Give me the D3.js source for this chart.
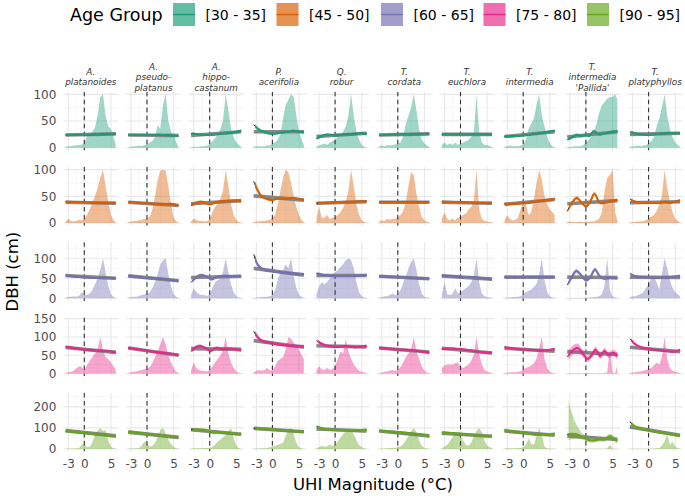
<!DOCTYPE html>
<html><head><meta charset="utf-8">
<script src="https://cdn.jsdelivr.net/npm/d3@7"></script>
<style>body{margin:0;background:#fff}svg{display:block}text{font-family:"DejaVu Sans",sans-serif}</style>
</head><body>
<svg id="chart" width="685" height="496"></svg>
<script>
// ---------- DATA ----------
const species = [["A.","platanoides"],["A.","pseudo-","platanus"],["A.","hippo-","castanum"],["P.","acerifolia"],["Q.","robur"],["T.","cordata"],["T.","euchlora"],["T.","intermedia"],["T.","intermedia","'Pallida'"],["T.","platyphyllos"]];
const ageGroups = ["[30 - 35]","[45 - 50]","[60 - 65]","[75 - 80]","[90 - 95]"];
const colors = ["#1B9E77","#D95F02","#7570B3","#E7298A","#66A61E"];
const xTicks = [-3,0,5];
const xMinor = [-1.5,2.5];
const yTicks = [[0,50,100],[0,50,100],[0,50,100],[0,50,100,150],[0,100,200]];
const yMinor = [[25,75],[25,75],[25,75,125],[25,75,125],[50,150,250]];
const yDomains = [[-5,105],[-5,105],[-6.7,140],[-7.3,152.7],[-12.7,266.7]];
const leadCols = [2,3,4,8,9];

// density (scaled) at these UHI values
const densX = [-3.5,-3,-2.5,-2,-1.5,-1,-0.5,0,0.5,1,1.5,2,2.5,3,3.5,4,4.5,5,5.5,5.9];
const dens1 = [
[2,3,3,4,4,5,6,8,22,25,30,38,60,95,100,60,40,35,20,5],
[1,2,3,3,4,3,5,6,10,12,20,42,35,80,100,50,30,25,10,2],
[1,2,2,2,3,3,4,6,12,18,25,35,50,100,70,35,20,10,5,2],
[2,3,3,3,3,4,4,8,10,15,25,55,80,90,100,95,60,30,15,5],
[2,4,6,8,5,10,12,15,20,25,30,40,60,100,60,30,15,5,2,1],
[3,4,3,5,4,5,6,8,10,20,45,60,75,100,70,35,15,8,4,2],
[5,10,5,8,5,10,5,8,10,12,15,20,25,100,30,10,5,5,3,2],
[2,3,4,3,3,3,4,5,15,35,45,55,80,100,60,40,20,8,3,1],
[1,2,2,3,3,3,5,10,15,20,30,45,65,80,85,92,95,95,100,90],
[2,3,3,4,3,4,5,8,12,20,40,55,75,100,60,35,20,10,5,2]];
const dens2 = [
[3,8,4,3,4,6,5,8,15,25,38,50,65,85,100,70,40,15,5,1],
[2,3,4,4,5,6,8,8,12,25,50,80,98,100,98,70,35,10,3,1],
[3,8,6,4,4,3,4,6,20,30,35,45,60,100,70,35,15,5,2,1],
[2,3,3,4,4,5,6,10,15,35,60,85,100,95,75,50,30,15,5,2],
[10,30,10,10,15,8,10,12,15,20,28,40,60,100,70,35,15,5,2,1],
[3,5,4,8,6,8,8,10,15,22,40,70,95,90,55,30,12,5,2,1],
[8,20,8,5,8,5,10,12,15,18,25,30,40,100,25,8,4,3,2,1],
[5,15,8,5,5,10,25,40,35,15,20,45,75,100,80,50,35,25,20,15],
[2,3,2,2,2,3,2,3,2,3,3,5,8,20,60,85,90,100,20,5],
[1,2,2,3,3,4,5,8,12,15,22,35,50,100,65,40,20,8,4,1]];
const dens3 = [
[2,3,4,5,4,6,15,10,8,12,20,35,50,70,100,65,30,10,3,1],
[2,3,4,4,6,8,10,12,15,25,40,60,85,95,100,60,30,10,4,1],
[8,25,15,10,8,8,6,10,25,40,45,50,65,100,65,35,15,5,2,1],
[1,2,2,3,3,4,5,8,20,45,65,70,85,75,100,55,25,8,3,1],
[10,30,40,35,40,50,60,65,70,78,85,95,100,95,75,40,15,5,2,1],
[2,3,5,5,8,12,8,10,20,38,55,75,90,100,70,35,12,4,2,1],
[10,40,10,8,10,25,12,15,20,25,30,40,55,100,40,12,5,3,2,1],
[1,2,2,3,3,4,5,10,15,18,22,28,35,60,100,45,15,5,2,1],
[1,1,1,1,1,1,1,2,2,2,3,3,5,10,30,100,20,5,2,1],
[3,5,5,8,10,15,25,35,50,55,40,22,60,100,75,45,25,15,10,5]];
const dens4 = [
[2,4,5,8,14,20,18,10,22,35,45,55,65,100,65,45,40,30,20,10],
[2,4,5,6,8,10,12,13,18,28,45,60,80,100,80,50,30,15,5,2],
[10,30,15,10,8,8,6,10,20,30,40,50,65,100,55,30,15,5,2,1],
[3,8,10,8,10,15,10,8,20,35,40,45,65,100,95,85,75,65,50,40],
[10,20,12,10,15,10,12,20,40,60,55,95,60,40,25,15,8,5,3,2],
[2,3,5,6,8,10,8,10,18,30,45,55,65,100,60,40,20,8,3,1],
[15,22,25,25,25,28,30,18,15,20,25,35,50,100,55,25,10,5,3,1],
[2,3,3,4,4,5,6,12,15,18,22,28,40,70,100,40,15,5,2,1],
[1,1,1,1,1,1,1,1,1,1,1,1,1,1,2,3,70,3,2,22],
[2,3,4,5,6,8,10,12,15,22,30,25,45,100,40,15,8,5,3,1]];
const dens5 = [
[1,2,2,2,3,5,20,25,8,10,30,70,85,100,85,90,40,10,3,1],
[1,2,2,3,5,15,35,30,12,15,30,55,90,100,75,45,25,10,3,1],
[2,3,3,3,3,4,4,5,10,20,35,45,55,65,85,100,50,15,3,1],
[1,2,2,3,3,5,8,10,15,20,25,30,60,95,100,70,30,8,2,1],
[3,8,15,10,12,20,15,20,35,55,70,85,100,90,70,40,20,8,3,1],
[1,2,2,3,4,5,6,8,12,22,40,60,85,100,80,40,15,5,2,1],
[5,10,20,35,55,70,75,65,40,20,15,30,60,85,100,80,40,15,8,4],
[2,3,3,3,3,4,5,8,20,50,25,20,60,100,60,10,3,2,1,1],
[1,1,1,1,1,1,1,1,1,1,1,1,1,1,1,2,20,2,1,1],
[1,1,1,1,1,1,1,1,1,2,3,5,15,35,70,20,35,10,3,1]];

// linear fit: DBH at UHI = -3.5 and 5.9
const linX = [-3.5,5.9];
const lin1 = [[24,26],[24,23],[23,30],[30,30],[21,27],[24,26],[25,25],[21,30],[20,30],[25,27]];
const lin2 = [[39,37],[39,33],[36,42],[51,43],[37,40],[39,39],[39,37],[35,44],[36,42],[38,40]];
const lin3 = [[57,50],[56,44],[52,55],[75,58],[57,57],[55,49],[56,48],[53,53],[53,52],[53,52]];
const lin4 = [[71,58],[70,50],[68,66],[90,72],[76,73],[70,59],[69,56],[69,61],[60,52],[72,60]];
const lin5 = [[87,62],[80,55],[92,70],[98,82],[95,85],[85,62],[75,60],[85,65],[62,45],[105,65]];

// smooth fit knots: [UHI, DBH, se below, (se above)]
const smooth1 = [
[[-3.5,24,2],[0,24,1.5],[3,25,1.5],[5.9,26,2]],
[[-3.5,24,2],[0,24,1.5],[3,24,1.5],[5.9,22,2]],
[[-3.5,27,3],[-2,25,2],[0,24,1.5],[2,26,1.5],[4,28,2],[5.9,32,3]],
[[-3.5,43,5],[-2.5,34,3],[-1.5,29,2],[0,26,2],[1.5,28,2],[3,30,2],[4,32,2],[5,30,2],[5.9,29,3]],
[[-3.5,17,4],[-2.5,22,3],[-1.5,25,2],[0,23,2],[1.5,25,2],[3,25,2],[4.5,27,2],[5.9,26,3]],
[[-3.5,24,2],[0,25,1.5],[3,25,1.5],[5.9,26,2]],
[[-3.5,25,2],[0,25,1.5],[3,25,1.5],[5.9,25,2]],
[[-3.5,21,2],[0,23,1.5],[3,27,1.5],[5.9,32,2.5]],
[[-3.5,15,4],[-2.5,20,3],[-1.8,24,3],[-0.8,22,3],[0,24,2.5],[0.6,22,2.5],[1.5,31,3],[2.5,25,2.5],[3.5,27,2],[4.5,29,2],[5.9,31,3]],
[[-3.5,30,3],[-2,26,2],[0,24,1.5],[2,26,1.5],[3.5,27,1.5],[5.9,27,2]]];
const smooth2 = [
[[-3.5,40,2],[-1,39,1.5],[2,38,1.5],[5.9,38,2]],
[[-3.5,39,2],[0,37,1.5],[3,35,1.5],[4.5,36,2],[5.9,33,2.5]],
[[-3.5,33,3],[-2.2,39,3],[-1.5,40,2.5],[0,35,2],[1.2,39,2],[3,41,2],[4.5,42,2],[5.9,41,3]],
[[-3.5,78,7],[-2.8,62,5],[-2,50,3],[-1,45,3],[0,43,2],[1,46,2],[2.5,45,2],[4,47,2],[5,45,2],[5.9,43,3]],
[[-3.5,37,2],[0,39,1.5],[3,40,1.5],[5.9,41,2.5]],
[[-3.5,39,2],[0,39,1.5],[3,39,1.5],[5.9,39,2]],
[[-3.5,40,2],[0,39,1.5],[3,38,1.5],[5.9,38,2]],
[[-3.5,36,2],[0,37,1.5],[3,41,1.5],[5.9,45,2.5]],
[[-3.5,22,5],[-2.6,38,4],[-1.7,47,4],[-0.8,38,3],[0,31,3],[0.8,40,3],[1.6,55,4],[2.6,38,3],[3.5,38,2.5],[4.5,41,2.5],[5.9,43,3]],
[[-3.5,45,3],[-2.5,40,2],[0,38,1.5],[2,38,1.5],[3.2,40,1.5],[4,38,1.5],[5.9,43,2.5]]];
const smooth3 = [
[[-3.5,57,3],[-1,53,2],[2,51,2],[5.9,50,3]],
[[-3.5,56,3],[0,51,2],[3,48,2],[5.9,44,3]],
[[-3.5,40,5],[-2.5,53,4],[-1.7,58,4],[-0.5,54,3],[0.3,47,3],[1.2,52,3],[2.5,56,3],[4,55,3],[5.9,55,4]],
[[-3.5,110,8],[-2.8,85,6],[-2,74,4],[0,68,3],[2,64,3],[4,62,3],[5.9,60,4]],
[[-3.5,63,4],[-2,58,3],[0,56,2.5],[3,56,2.5],[5.9,58,4]],
[[-3.5,55,3],[0,53,2],[3,51,2],[5.9,49,3]],
[[-3.5,57,3],[0,54,2],[3,52,2],[5.9,47,3]],
[[-3.5,53,3],[0,53,2],[3,53,2],[5.9,53,3]],
[[-3.5,33,6],[-2.7,52,6],[-1.8,68,6],[-0.9,58,5],[0,45,5],[0.8,52,5],[1.7,72,5],[2.6,55,4],[3.5,49,4],[4.5,51,4],[5.9,50,5]],
[[-3.5,62,4],[-2.5,55,3],[0,52,2.5],[3,52,2.5],[5.9,56,4]]];
const smooth4 = [
[[-3.5,73,4],[-2,70,3],[0,66,3],[2,63,3],[4,62,3],[5.9,58,4]],
[[-3.5,70,4],[-1,65,3],[2,58,3],[4,55,3],[5.9,51,4]],
[[-3.5,60,6],[-2.6,72,5],[-1.8,75,5],[-0.8,70,4],[0.2,62,4],[1.1,70,4],[2.2,68,4],[4,68,4],[5.9,64,5]],
[[-3.5,115,9],[-2.8,100,6],[-2,90,5],[0,83,4],[2,78,4],[4,76,4],[5.9,74,5]],
[[-3.5,90,6],[-2,78,4],[0,73,3],[2,75,3],[4,72,3],[5.9,75,5]],
[[-3.5,70,4],[0,66,3],[3,63,3],[5.9,57,4]],
[[-3.5,67,4],[-1,68,3],[2,63,3],[4,58,3],[5.9,57,4]],
[[-3.5,72,4],[-1.5,68,3],[1,65,3],[4,63,3],[5.9,67,4]],
[[-3.5,45,15],[-2.6,62,12],[-1.6,70,12],[-0.6,55,10],[0.3,40,8],[1.1,50,8],[1.8,65,8],[2.7,48,8],[3.5,62,8],[4.3,50,8],[5.1,57,8],[5.9,48,10]],
[[-3.5,95,6],[-2.5,80,4],[-1,70,3],[1,65,3],[3,62,3],[5,60,3],[5.9,65,4]]];
const smooth5 = [
[[-3.5,85,8],[0,76,6],[3,68,6],[5.9,60,8]],
[[-3.5,80,10],[0,72,6],[3,63,6],[5.9,55,8]],
[[-3.5,92,8],[-1.8,92,7],[-0.5,88,7],[0.6,78,7],[1.6,80,7],[3,76,6],[5.9,70,8]],
[[-3.5,98,8],[-1,96,6],[1,90,6],[3,85,6],[5.9,82,8]],
[[-3.5,108,10],[-2.5,98,8],[0,90,6],[2,88,6],[4,86,7],[5.9,90,12]],
[[-3.5,85,8],[0,80,6],[2,75,6],[4,70,6],[5.9,60,8]],
[[-3.5,78,10],[-1,74,6],[2,68,6],[4,62,6],[5.9,62,8]],
[[-3.5,88,10],[-1,80,6],[1,72,6],[4,66,6],[5.9,72,10]],
[[-3.5,70,30,180],[-2.5,72,25,90],[-1.5,68,18,35],[-0.5,55,12,15],[0.5,42,10,10],[1.5,40,10,10],[2.5,45,10,10],[3.5,45,10,10],[4.5,60,12,12],[5.2,50,12,12],[5.9,40,15,15]],
[[-3.5,130,12],[-3,115,10],[-2,100,8],[0,88,6],[2,78,6],[4,70,6],[5.9,62,8]]];

const densRows = [dens1,dens2,dens3,dens4,dens5];
const linRows = [lin1,lin2,lin3,lin4,lin5];
const smoothRows = [smooth1,smooth2,smooth3,smooth4,smooth5];

// ---------- LAYOUT ----------
const svg = d3.select("#chart");
const panelW = 55, panelH = 58.7, colStep = 62.7, rowStep = 75.3, left0 = 63.3, top0 = 91.7;
const xDomain = [-3.94, 6.38];
const gridMajor = "#e8e8e8", gridMinor = "#f1f1f1";

const curve = d3.curveCatmullRom.alpha(0.5);

for (let r = 0; r < 5; r++) {
  for (let c = 0; c < 10; c++) {
    const gx = left0 + c * colStep, gy = top0 + r * rowStep;
    const g = svg.append("g").attr("transform", `translate(${gx},${gy})`);
    const x = d3.scaleLinear().domain(xDomain).range([0, panelW]);
    const y = d3.scaleLinear().domain(yDomains[r]).range([panelH, 0]);
    const cid = `clip-${r}-${c}`, cid2 = `clipc-${r}-${c}`;
    const defs = g.append("defs");
    defs.append("clipPath").attr("id", cid).append("rect").attr("width", panelW).attr("height", panelH);
    const isLead = leadCols.includes(c);
    defs.append("clipPath").attr("id", cid2).append("rect")
      .attr("x", isLead ? x(-3.25) : 0).attr("width", panelW).attr("height", panelH);

    // grid
    g.selectAll(".vmin").data(xMinor).join("line").attr("x1", d => x(d)).attr("x2", d => x(d))
      .attr("y1", 0).attr("y2", panelH).attr("stroke", gridMinor).attr("stroke-width", 0.6);
    g.selectAll(".hmin").data(yMinor[r].filter(v => v < yDomains[r][1])).join("line").attr("y1", d => y(d)).attr("y2", d => y(d))
      .attr("x1", 0).attr("x2", panelW).attr("stroke", gridMinor).attr("stroke-width", 0.6);
    g.append("g").selectAll("line").data(xTicks).join("line").attr("x1", d => x(d)).attr("x2", d => x(d))
      .attr("y1", 0).attr("y2", panelH).attr("stroke", gridMajor).attr("stroke-width", 1.1);
    g.append("g").selectAll("line").data(yTicks[r]).join("line").attr("y1", d => y(d)).attr("y2", d => y(d))
      .attr("x1", 0).attr("x2", panelW).attr("stroke", gridMajor).attr("stroke-width", 1.1);

    const plot = g.append("g").attr("clip-path", `url(#${cid})`);
    const col = colors[r];

    // density area
    const dens = densRows[r][c].map((v, i) => ({x: densX[i], v}));
    plot.append("path").datum(dens)
      .attr("d", d3.area().x(d => x(d.x)).y0(y(0)).y1(d => y(d.v)))
      .attr("fill", col).attr("fill-opacity", 0.42);

    // dashed zero line
    plot.append("line").attr("x1", x(0)).attr("x2", x(0)).attr("y1", 0).attr("y2", panelH)
      .attr("stroke", "#333").attr("stroke-width", 1.1).attr("stroke-dasharray", "4.5,3.5");

    // linear fit
    const lin = linRows[r][c].map((v, i) => ({x: linX[i], v}));
    plot.append("path").datum(lin)
      .attr("d", d3.line().x(d => x(d.x)).y(d => y(d.v)))
      .attr("stroke", "#7d7d7d").attr("stroke-width", 3.6).attr("fill", "none").attr("stroke-opacity", 0.92);

    // smooth fit
    const sm = smoothRows[r][c].map(k => ({x: k[0], v: k[1], lo: k[1] - k[2], hi: k[1] + (k.length > 3 ? k[3] : k[2])}));
    const sg = plot.append("g");
    sg.append("path").datum(sm)
      .attr("d", d3.line().curve(curve).x(d => x(d.x)).y(d => y(d.v)))
      .attr("stroke", "#111").attr("stroke-width", 1).attr("fill", "none");
    const cg = sg.append("g").attr("clip-path", `url(#${cid2})`);
    cg.append("path").datum(sm)
      .attr("d", d3.area().curve(curve).x(d => x(d.x)).y0(d => y(d.lo)).y1(d => y(d.hi)))
      .attr("fill", col).attr("fill-opacity", 0.4);
    cg.append("path").datum(sm)
      .attr("d", d3.line().curve(curve).x(d => x(d.x)).y(d => y(d.v)))
      .attr("stroke", col).attr("stroke-width", 2).attr("fill", "none");

    // axes
    if (c === 0) {
      const ax = g.append("g").call(d3.axisLeft(y).tickValues(yTicks[r]).tickSize(0).tickPadding(7));
      ax.select(".domain").remove();
      ax.selectAll("text").attr("font-size", 12).attr("fill", "#4d4d4d").attr("font-family", "DejaVu Sans");
    }
    if (r === 4) {
      const ax = g.append("g").attr("transform", `translate(0,${panelH})`)
        .call(d3.axisBottom(x).tickValues(xTicks).tickSize(0).tickPadding(8).tickFormat(d3.format("d")));
      ax.select(".domain").remove();
      ax.selectAll("text").attr("font-size", 12).attr("fill", "#4d4d4d").attr("font-family", "DejaVu Sans")
        .text(d => d < 0 ? "-" + Math.abs(d) : d);
    }
    // strip
    if (r === 0) {
      const lines = species[c];
      const n = lines.length, lh = 10.5, cy = 77;
      const t = svg.append("text").attr("text-anchor", "middle")
        .attr("font-size", 8.8).attr("font-style", "italic").attr("fill", "#333");
      lines.forEach((s, i) => {
        t.append("tspan").attr("x", gx + panelW / 2).attr("y", cy + (i - (n - 1) / 2) * lh + 3).text(s);
      });
    }
  }
}

// axis titles
svg.append("text").attr("x", left0 + (9 * colStep + panelW) / 2).attr("y", 490)
  .attr("text-anchor", "middle").attr("font-size", 16.5).attr("fill", "#000").text("UHI Magnitude (°C)");
svg.append("text").attr("transform", `translate(18,${top0 + (4 * rowStep + panelH) / 2}) rotate(-90)`)
  .attr("text-anchor", "middle").attr("font-size", 16.5).attr("fill", "#000").text("DBH (cm)");

// legend
const leg = svg.append("g");
leg.append("text").attr("x", 70).attr("y", 21).attr("font-size", 17.5).attr("fill", "#000").text("Age Group");
const keyX = [173, 276.5, 381, 483.5, 587];
ageGroups.forEach((a, i) => {
  const k = leg.append("g").attr("transform", `translate(${keyX[i]},3)`);
  k.append("rect").attr("width", 22).attr("height", 23).attr("fill", colors[i]).attr("fill-opacity", 0.68);
  k.append("line").attr("x1", 0).attr("x2", 22).attr("y1", 11.5).attr("y2", 11.5).attr("stroke", colors[i]).attr("stroke-width", 1.5);
  leg.append("text").attr("x", keyX[i] + 32.5).attr("y", 19.5).attr("font-size", 14).attr("fill", "#000").text(a);
});
</script>
</body></html>
